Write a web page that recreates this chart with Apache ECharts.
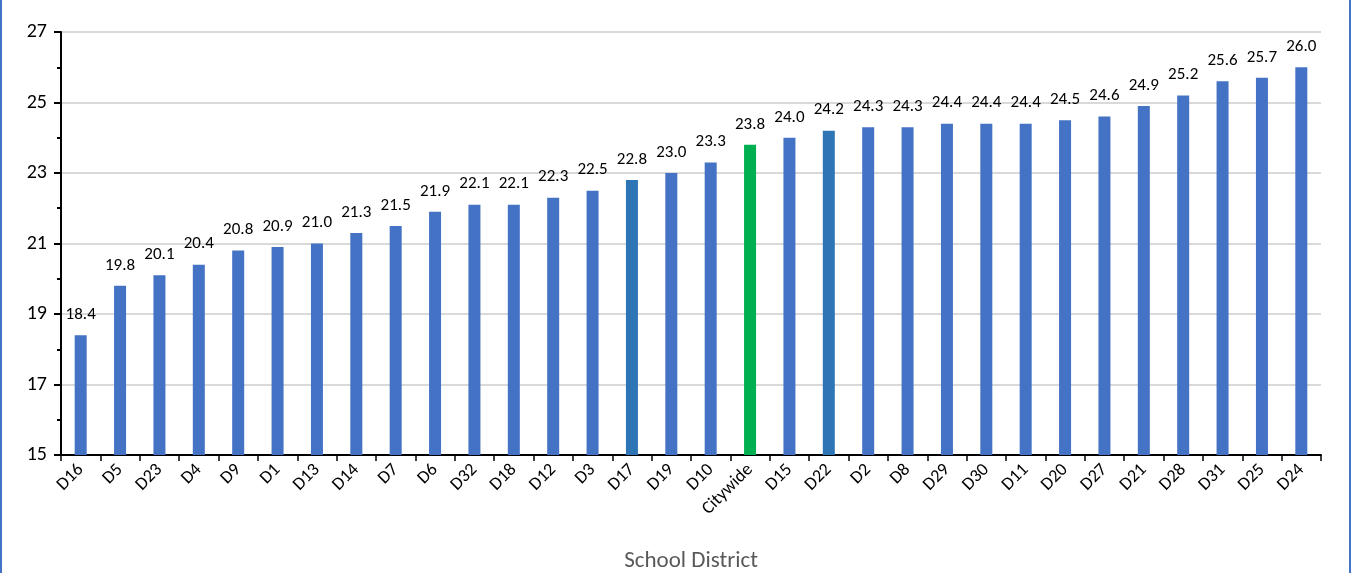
<!DOCTYPE html>
<html>
<head>
<meta charset="utf-8">
<script src="https://cdn.jsdelivr.net/npm/echarts@6/dist/echarts.min.js"></script>
<style>
    html, body { margin: 0; padding: 0; background: #fff; }
    #chart {
        width: 1351px;
        height: 573px;
        box-sizing: border-box;
        border-left: 2px solid #4472C4;
        border-right: 2px solid #4472C4;
    }
</style>
</head>
<body>
<div id="chart"></div>
<script>
// 学区与平均值
const districts = ['D16', 'D5', 'D23', 'D4', 'D9', 'D1', 'D13', 'D14', 'D7', 'D6', 'D32', 'D18', 'D12', 'D3', 'D17', 'D19', 'D10', 'Citywide', 'D15', 'D22', 'D2', 'D8', 'D29', 'D30', 'D11', 'D20', 'D27', 'D21', 'D28', 'D31', 'D25', 'D24']
const values = [18.4, 19.8, 20.1, 20.4, 20.8, 20.9, 21.0, 21.3, 21.5, 21.9, 22.1, 22.1, 22.3, 22.5, 22.8, 23.0, 23.3, 23.8, 24.0, 24.2, 24.3, 24.3, 24.4, 24.4, 24.4, 24.5, 24.6, 24.9, 25.2, 25.6, 25.7, 26.0]
const yTicks = [15, 17, 19, 21, 23, 25, 27]
const highlight = { 'Citywide': '#00B050', 'D17': '#2E75B6', 'D22': '#2E75B6' }

const chart = echarts.init(document.getElementById('chart'))
const font = 'Carlito, "Open Sans", "Noto Sans", sans-serif'

const option = {
    animation: false,
    grid: {
        left: 59,
        right: 28,
        top: 32,
        bottom: 118,
        outerBoundsMode: 'none'
    },
    xAxis: {
        type: 'category',
        data: districts,
        name: 'School District',
        nameLocation: 'middle',
        nameGap: 95,
        nameMoveOverlap: false,
        nameTextStyle: { color: '#595959', fontSize: 23, fontFamily: font },
        axisLine: { lineStyle: { color: '#000', width: 2 } },
        axisTick: { show: true, length: 6, lineStyle: { color: '#000', width: 1.5 } },
        axisLabel: { color: '#000', fontSize: 18, rotate: 45, margin: 12, fontFamily: font }
    },
    yAxis: {
        type: 'value',
        min: yTicks[0],
        max: yTicks[yTicks.length - 1],
        interval: 2,
        axisLine: { show: true, lineStyle: { color: '#000', width: 2 } },
        axisTick: { show: true, length: 7, lineStyle: { color: '#000', width: 2 } },
        minorTick: { show: true, splitNumber: 2, length: 4, lineStyle: { color: '#000', width: 2 } },
        splitLine: { lineStyle: { color: '#D9D9D9', width: 2 } },
        axisLabel: { color: '#000', fontSize: 20, margin: 14, fontFamily: font }
    },
    series: [{
        type: 'bar',
        barWidth: 12,
        data: values.map((v, i) => ({
            value: v,
            itemStyle: { color: highlight[districts[i]] || '#4472C4' }
        })),
        label: {
            show: true,
            position: 'top',
            distance: 12,
            color: '#000',
            fontSize: 17,
            fontFamily: font,
            formatter: p => p.value.toFixed(1)
        }
    }]
}

chart.setOption(option)
</script>
</body>
</html>
